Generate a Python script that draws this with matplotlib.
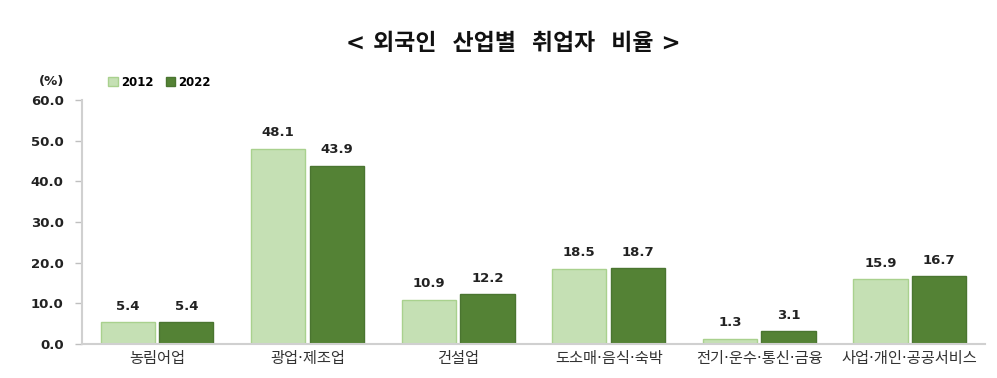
import numpy as np
import matplotlib.pyplot as plt

plt.rcParams['font.family'] = ['DejaVu Sans', 'Noto Sans CJK KR']

categories = ["농림어업", "광업·제조업", "건설업", "도소매·음식·숙박", "전기·운수·통신·금융", "사업·개인·공공서비스"]
v2012 = [5.4, 48.1, 10.9, 18.5, 1.3, 15.9]
v2022 = [5.4, 43.9, 12.2, 18.7, 3.1, 16.7]
yticks = [0, 10, 20, 30, 40, 50, 60]

fig = plt.figure(figsize=(9.97, 3.78), dpi=100)
ax = fig.add_axes([0.082, 0.09, 0.906, 0.645])

x = np.arange(len(categories))
w = 0.36
b1 = ax.bar(x - 0.195, v2012, w, color="#c5e0b4", edgecolor="#a9d18e", linewidth=1, label="2012")
b2 = ax.bar(x + 0.195, v2022, w, color="#548235", edgecolor="#4a7530", linewidth=1, label="2022")

for bars, vals in ((b1, v2012), (b2, v2022)):
    for r, v in zip(bars, vals):
        ax.text(r.get_x() + r.get_width() / 2, v + 2.3, f"{v:.1f}", ha="center", va="bottom",
                fontsize=9.5, fontweight="bold", color="#222222")

ax.set_xlim(-0.5, len(categories) - 0.5)
ax.set_ylim(0, 60)
ax.set_yticks(yticks)
ax.set_yticklabels([f"{t:.1f}" for t in yticks], fontsize=9.5, fontweight="bold", color="#222222")
ax.set_xticks(x)
ax.set_xticklabels(categories, fontsize=11, color="#333333")
ax.tick_params(axis="x", length=0, pad=5)
ax.tick_params(axis="y", length=5, color="#bfbfbf", width=1, pad=8)

for s in ("top", "right"):
    ax.spines[s].set_visible(False)
for s in ("left", "bottom"):
    ax.spines[s].set_color("#d0d0d0")
    ax.spines[s].set_linewidth(1.5)

fig.text(0.515, 0.885, "< 외국인  산업별  취업자  비율 >", ha="center", va="center",
         fontsize=16.5, fontweight="bold", color="#111111")
fig.text(0.052, 0.785, "(%)", ha="center", va="center", fontsize=9.5, fontweight="bold", color="#222222")

leg = fig.legend(handles=[b1, b2], loc="center left", bbox_to_anchor=(0.098, 0.783), ncol=2,
                 frameon=False, handlelength=0.8, handleheight=0.8, handletextpad=0.3,
                 columnspacing=1.0, prop={"weight": "bold", "size": 8.5})

fig.savefig("out.png", dpi=100)
